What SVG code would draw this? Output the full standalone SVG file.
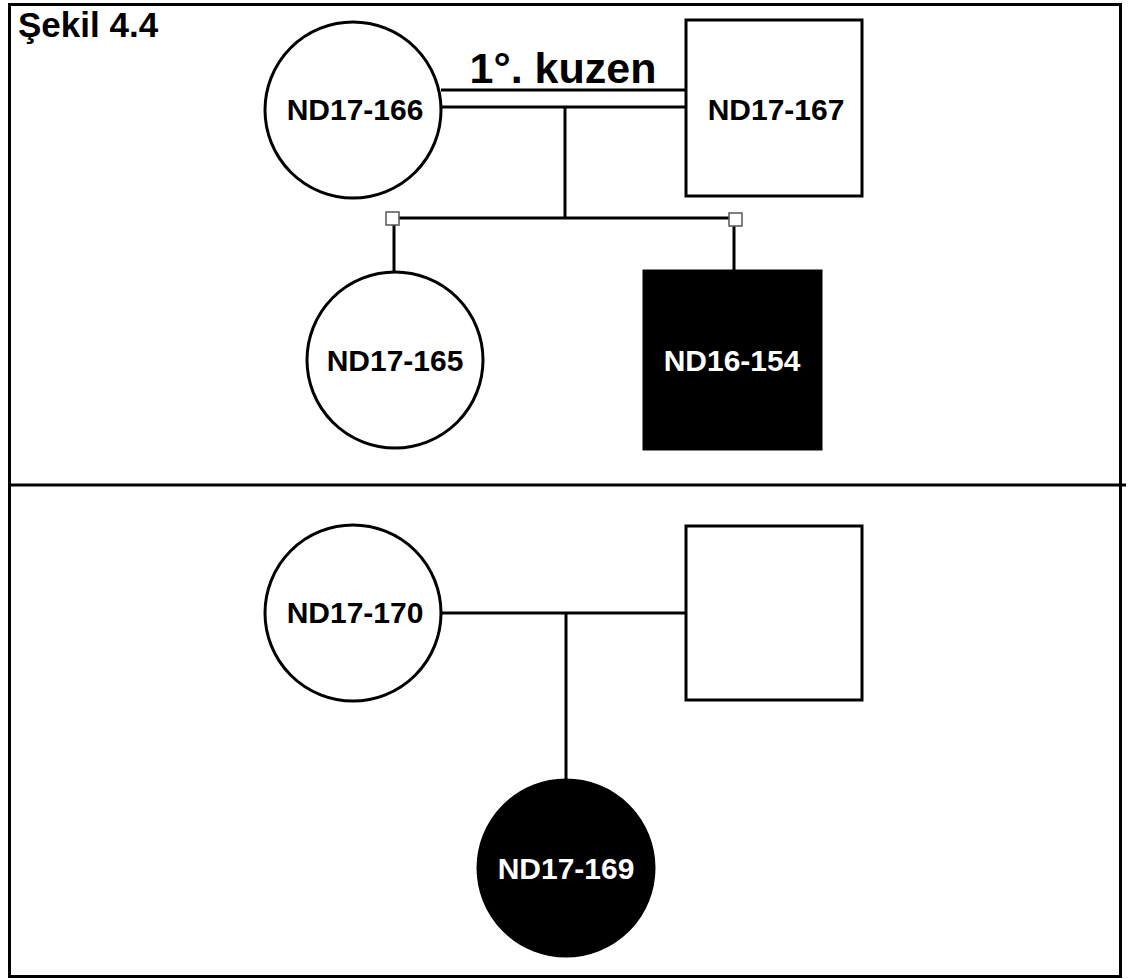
<svg xmlns="http://www.w3.org/2000/svg" width="1130" height="979" viewBox="0 0 1130 979">
<style>
.ln{stroke:#000;stroke-width:3;fill:none}
.nd{stroke:#000;stroke-width:3;fill:#fff}
.af{stroke:#000;stroke-width:3;fill:#000}
.tx{font-family:"Liberation Sans",Arial,sans-serif;font-weight:bold;fill:#000}
.lb{font-family:"Liberation Sans",Arial,sans-serif;font-weight:bold;font-size:30px;text-anchor:middle;fill:#000}
.lw{font-family:"Liberation Sans",Arial,sans-serif;font-weight:bold;font-size:30px;text-anchor:middle;fill:#fff}
.sm{fill:#fff;stroke:#555;stroke-width:1.5}
</style>
<rect x="0" y="0" width="1130" height="979" fill="#fff"/>
<rect x="9.5" y="4.5" width="1111" height="972" class="ln"/>
<line x1="8" y1="485" x2="1126" y2="485" class="ln"/>
<text x="18" y="37" class="tx" font-size="35">Şekil 4.4</text>
<g id="connectors">
<line x1="441" y1="90" x2="686" y2="90" class="ln"/>
<line x1="441" y1="107" x2="686" y2="107" class="ln"/>
<line x1="565" y1="107" x2="565" y2="218" class="ln"/>
<line x1="392" y1="218" x2="735" y2="218" class="ln"/>
<line x1="394" y1="225" x2="394" y2="272" class="ln"/>
<line x1="734" y1="225" x2="734" y2="271" class="ln"/>
<rect x="386" y="212" width="13" height="13" class="sm"/>
<rect x="729" y="213" width="13" height="13" class="sm"/>
<line x1="441" y1="613" x2="686" y2="613" class="ln"/>
<line x1="566" y1="613" x2="566" y2="780" class="ln"/>
</g>
<text x="563" y="83" class="tx" font-size="43" text-anchor="middle">1°. kuzen</text>
<g id="ND17-166"><circle cx="353" cy="110" r="88" class="nd"/><text x="355" y="120" class="lb">ND17-166</text></g>
<g id="ND17-167"><rect x="686" y="20" width="176" height="176" class="nd"/><text x="776" y="120" class="lb">ND17-167</text></g>
<g id="ND17-165"><circle cx="395" cy="360" r="88" class="nd"/><text x="395" y="371" class="lb">ND17-165</text></g>
<g id="ND16-154"><rect x="644" y="271" width="177" height="178" class="af"/><text x="732" y="371" class="lw">ND16-154</text></g>
<g id="ND17-170"><circle cx="353" cy="613" r="88" class="nd"/><text x="355" y="623" class="lb">ND17-170</text></g>
<g id="male-unlabeled"><rect x="686" y="526" width="176" height="174" class="nd"/></g>
<g id="ND17-169"><circle cx="566" cy="868" r="88" class="af"/><text x="566" y="879" class="lw">ND17-169</text></g>
</svg>
